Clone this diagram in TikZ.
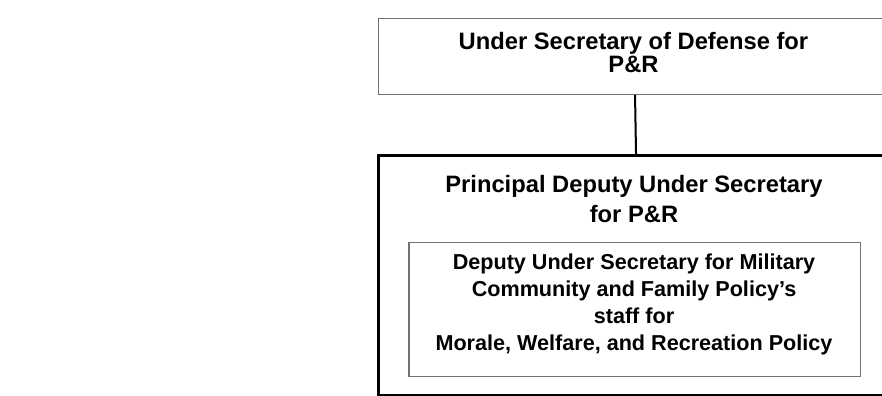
\documentclass[tikz,border=0pt]{standalone}
\usepackage{fontspec}
\setmainfont{Liberation Sans}
\usetikzlibrary{positioning}

\begin{document}
\begin{tikzpicture}[
    x=0.75pt, y=-0.75pt,
    thinbox/.style={draw=black!55, line width=1pt, fill=none, inner sep=0pt,
    anchor=north west},
    thickbox/.style={draw=black, line width=2.25pt, fill=none, inner sep=0pt,
    anchor=north west},
    boxtext/.style={font=\bfseries\fontsize{17.8}{17.25}\selectfont,
    align=center, inner sep=0pt},
    stafftext/.style={font=\bfseries\fontsize{16.2}{20.3}\selectfont,
    align=center, inner sep=0pt},
]

\clip (0,0) rectangle (882,396);

% UNDER SECRETARY
\node[thinbox, minimum width=385pt, minimum height=57pt] at (377.7,17.5) (usd) {};
\node[boxtext] at (633.5,52.3) (usdtext) {Under Secretary of Defense for\\P\&R};

% PRINCIPAL DEPUTY
\node[thickbox, minimum width=386pt, minimum height=180.2pt] at (377.2,154.2) (pdusd) {};
\node[boxtext, font=\bfseries\fontsize{17.8}{22.5}\selectfont] at (634,199.3)
    (pdusdtext) {Principal Deputy Under Secretary\\for P\&R};

% MWR STAFF
\node[thinbox, minimum width=338.8pt, minimum height=100.7pt] at (408.3,241.7) (staff) {};
\node[stafftext] at (634,304.5) (stafftxt)
    {Deputy Under Secretary for Military\\Community and Family Policy’s\\staff for\\
    Morale, Welfare, and Recreation Policy};

\draw[line width=1.5pt] (usd.south) -- (pdusd.north);

\end{tikzpicture}
\end{document}
